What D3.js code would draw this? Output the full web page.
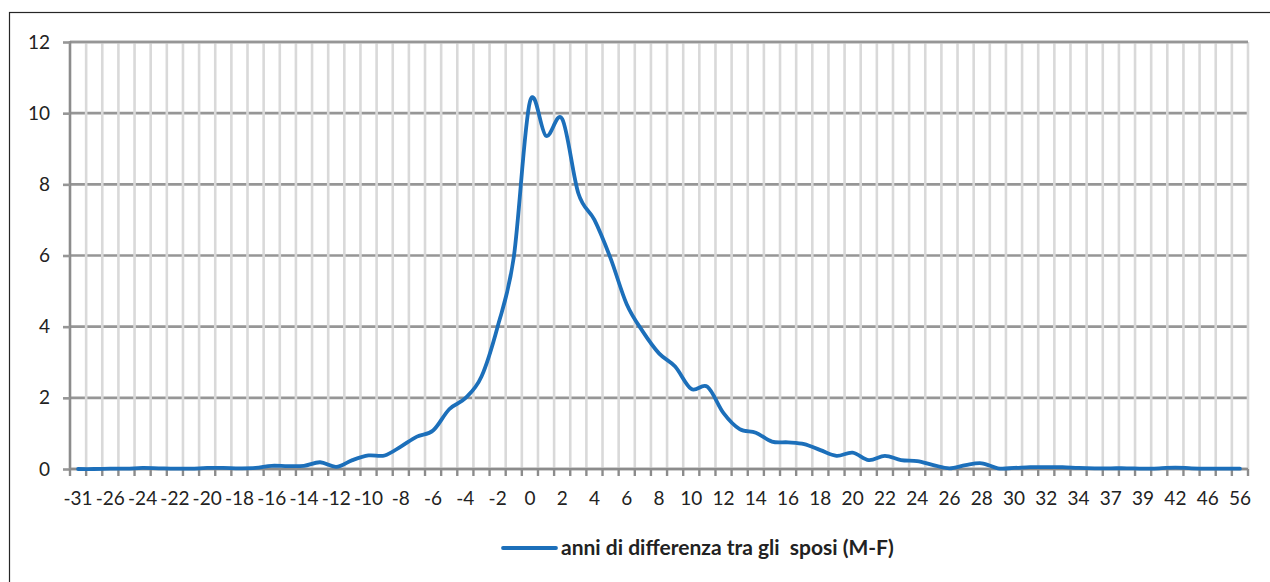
<!DOCTYPE html>
<html>
<head>
<meta charset="utf-8">
<script src="https://cdn.jsdelivr.net/npm/d3@7"></script>
<style>
  body { margin: 0; background: #fff; }
  svg { display: block; font-family: Lato, "Open Sans", sans-serif; }
</style>
</head>
<body>
<div id="chart"></div>
<script>
// categories: age difference between spouses (M-F), in years
var years = [-31, -27, -26, -25, -24, -23, -22, -21, -20, -19, -18, -17, -16, -15, -14, -13, -12, -11, -10, -9,
  -8, -7, -6, -5, -4, -3, -2, -1, 0, 1, 2, 3, 4, 5, 6, 7, 8, 9, 10, 11,
  12, 13, 14, 15, 16, 17, 18, 19, 20, 21, 22, 23, 24, 25, 26, 27, 28, 29, 30, 31,
  32, 33, 34, 35, 37, 38, 39, 40, 42, 44, 46, 50, 56]

// percentage of couples
var values = [0.0, 0.0, 0.01, 0.01, 0.03, 0.02, 0.01, 0.01, 0.03, 0.03, 0.02, 0.03, 0.09, 0.08, 0.09, 0.19, 0.06, 0.25, 0.38, 0.38,
  0.63, 0.91, 1.08, 1.68, 1.99, 2.6, 4.0, 5.95, 10.32, 9.36, 9.84, 7.75, 7.0, 5.92, 4.63, 3.86, 3.25, 2.88, 2.25, 2.31,
  1.57, 1.12, 1.02, 0.77, 0.75, 0.7, 0.53, 0.37, 0.46, 0.25, 0.37, 0.25, 0.22, 0.11, 0.02, 0.11, 0.16, 0.02, 0.03, 0.05,
  0.05, 0.05, 0.03, 0.02, 0.02, 0.02, 0.01, 0.02, 0.04, 0.02, 0.01, 0.01, 0.01]

var yTicks = [0, 2, 4, 6, 8, 10, 12]
var seriesName = "anni di differenza tra gli  sposi (M-F)"

var width = 1270, height = 582
var plot = {left: 70, right: 1248, top: 42, bottom: 469}

var svg = d3.select("#chart").append("svg")
    .attr("width", width)
    .attr("height", height)

// outer chart frame
svg.append("rect")
    .attr("x", 9.5).attr("y", 12.5)
    .attr("width", 1280).attr("height", 600)
    .style("fill", "none")
    .style("stroke", "#262626")
    .style("stroke-width", 1.2)

var idx = d3.range(years.length)
var x = d3.scaleBand()
    .domain(idx)
    .range([plot.left, plot.right])
    .padding(0)

var y = d3.scaleLinear()
    .domain([0, 12])
    .range([plot.bottom, plot.top])

var cx = function(i) { return x(i) + x.bandwidth() / 2 }

// category boundaries (where Excel puts gridlines and tick marks)
var bounds = d3.range(years.length + 1).map(function(k) { return plot.left + k * x.step() })

// horizontal gridlines
svg.append("g").selectAll("line")
    .data(yTicks)
  .enter().append("line")
    .attr("x1", plot.left).attr("x2", plot.right)
    .attr("y1", function(d) { return y(d) }).attr("y2", function(d) { return y(d) })
    .style("stroke", "#969696")
    .style("stroke-width", 2.6)

// vertical gridlines
svg.append("g").selectAll("line")
    .data(bounds.slice(1))
  .enter().append("line")
    .attr("x1", function(d) { return d }).attr("x2", function(d) { return d })
    .attr("y1", plot.top).attr("y2", plot.bottom)
    .style("stroke", "#d9d9d9")
    .style("stroke-width", 2.6)

// top gridline again over the verticals
svg.append("line")
    .attr("x1", plot.left).attr("x2", plot.right)
    .attr("y1", y(12)).attr("y2", y(12))
    .style("stroke", "#969696")
    .style("stroke-width", 2.6)

// y axis
var yAxis = svg.append("g")
    .attr("transform", "translate(" + plot.left + ",0)")
    .call(d3.axisLeft(y).tickValues(yTicks).tickSize(7).tickPadding(13).tickFormat(d3.format("d")))
yAxis.select(".domain")
    .attr("d", "M0," + (plot.top - 1) + "V" + (plot.bottom + 1))
    .style("stroke", "#8c8c8c")
    .style("stroke-width", 2.6)
yAxis.selectAll(".tick line").style("stroke", "#969696").style("stroke-width", 2.6)
yAxis.selectAll("text")
    .style("font-size", "19px")
    .style("fill", "#222")
    .style("font-family", "Lato, sans-serif")

// x axis line + tick marks at category boundaries
svg.append("line")
    .attr("x1", plot.left).attr("x2", plot.right)
    .attr("y1", plot.bottom).attr("y2", plot.bottom)
    .style("stroke", "#8c8c8c")
    .style("stroke-width", 2.6)
svg.append("g").selectAll("line")
    .data(bounds)
  .enter().append("line")
    .attr("x1", function(d) { return d }).attr("x2", function(d) { return d })
    .attr("y1", plot.bottom).attr("y2", plot.bottom + 7)
    .style("stroke", "#8c8c8c")
    .style("stroke-width", 2.4)

// x labels, every other category
svg.append("g").selectAll("text")
    .data(idx.filter(function(i) { return i % 2 == 0 }))
  .enter().append("text")
    .attr("x", function(i) { return cx(i) })
    .attr("y", 498)
    .attr("dy", "0.35em")
    .attr("text-anchor", "middle")
    .style("font-size", "19px")
    .style("fill", "#222")
    .text(function(i) { return years[i] })

// the smoothed line
var line = d3.line()
    .x(function(d, i) { return cx(i) })
    .y(function(d) { return y(d) })
    .curve(d3.curveCatmullRom.alpha(0))

svg.append("path")
    .datum(values)
    .attr("d", line)
    .style("fill", "none")
    .style("stroke", "#1c6fba")
    .style("stroke-width", 3.8)
    .style("stroke-linejoin", "round")
    .style("stroke-linecap", "round")

// legend
var lg = svg.append("g").attr("transform", "translate(503,548)")
lg.append("line")
    .attr("x1", 0).attr("x2", 53)
    .style("stroke", "#1c6fba")
    .style("stroke-width", 3.8)
    .style("stroke-linecap", "round")
lg.append("text")
    .attr("x", 58)
    .attr("dy", "0.35em")
    .style("font-size", "21px")
    .style("font-weight", "bold")
    .style("fill", "#222")
    .style("white-space", "pre")
    .text(seriesName)
</script>
</body>
</html>
